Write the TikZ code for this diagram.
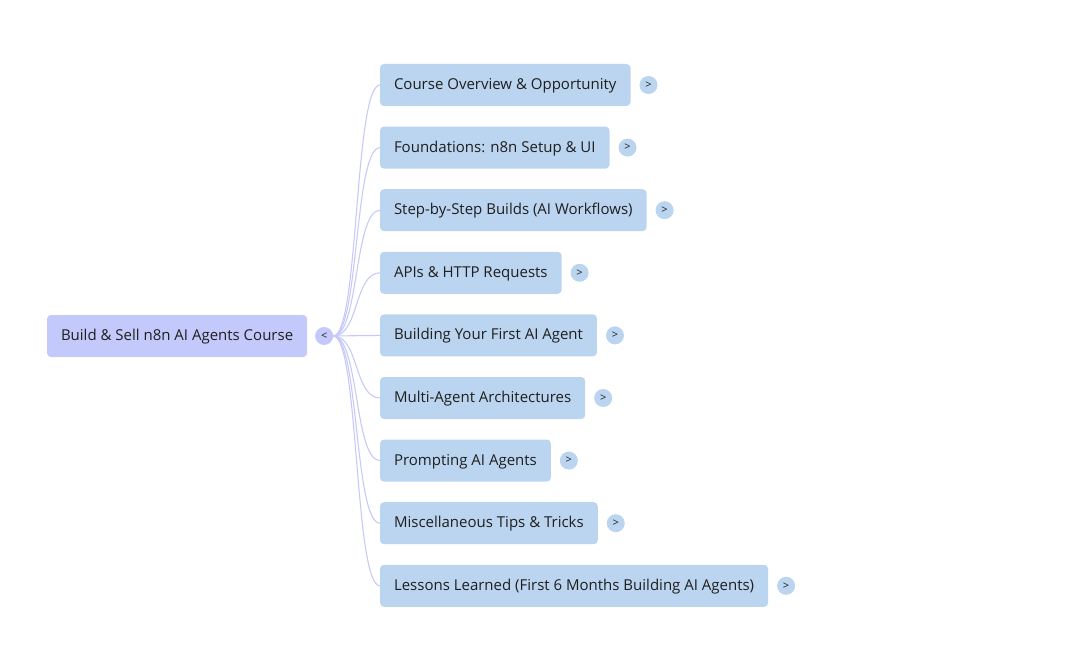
\documentclass[tikz,border=0pt]{standalone}
\usepackage{fontspec}
\setmainfont{Open Sans}
\usepackage{xcolor}
\usetikzlibrary{positioning}
\definecolor{rootfill}{HTML}{C4C9FB}
\definecolor{topicfill}{HTML}{BBD4EF}
\definecolor{linkline}{HTML}{C6CAF8}
\definecolor{inktext}{HTML}{1F1F1F}

\begin{document}
\begin{tikzpicture}[x=1pt, y=-1pt,
    topic/.style={fill=topicfill, rounded corners=4pt, minimum height=42pt,
                  inner xsep=14pt, outer sep=0pt, anchor=west, text=inktext,
                  text height=11pt, text depth=2pt,
                  font=\fontsize{15}{17}\selectfont},
    toggle/.style={circle, fill=topicfill, minimum size=18pt, inner sep=0pt,
                   outer sep=0pt, text=inktext, font=\fontsize{11}{12}\selectfont},
    link/.style={draw=linkline, line width=1.1pt}]
        \useasboundingbox (0,0) rectangle (1070,668);
        % root and its toggle
        \node[topic, fill=rootfill] (root) at (47,336) {Build \& Sell n8n AI Agents Course};
        \node[toggle, fill=rootfill, right=8pt of root] (rootbtn) {<};
        % topics
        \node[topic] (overview) at (380,85) {Course Overview \& Opportunity};
        \node[topic, below=20.6pt of overview.south west, anchor=north west]
              (setup) {Foundations: n8n Setup \& UI};
        \node[topic, below=20.6pt of setup.south west, anchor=north west]
              (builds) {Step-by-Step Builds (AI Workflows)};
        \node[topic, below=20.6pt of builds.south west, anchor=north west]
              (apis) {APIs \& HTTP Requests};
        \node[topic, below=20.6pt of apis.south west, anchor=north west]
              (firstagent) {Building Your First AI Agent};
        \node[topic, below=20.6pt of firstagent.south west, anchor=north west]
              (multi) {Multi-Agent Architectures};
        \node[topic, below=20.6pt of multi.south west, anchor=north west]
              (prompting) {Prompting AI Agents};
        \node[topic, below=20.6pt of prompting.south west, anchor=north west]
              (tips) {Miscellaneous Tips \& Tricks};
        \node[topic, below=20.6pt of tips.south west, anchor=north west]
              (lessons) {Lessons Learned (First 6 Months Building AI Agents)};
        % expand toggles
        \node[toggle, right=9pt of overview] (overviewbtn) {>};
        \node[toggle, right=9pt of setup] (setupbtn) {>};
        \node[toggle, right=9pt of builds] (buildsbtn) {>};
        \node[toggle, right=9pt of apis] (apisbtn) {>};
        \node[toggle, right=9pt of firstagent] (firstagentbtn) {>};
        \node[toggle, right=9pt of multi] (multibtn) {>};
        \node[toggle, right=9pt of prompting] (promptingbtn) {>};
        \node[toggle, right=9pt of tips] (tipsbtn) {>};
        \node[toggle, right=9pt of lessons] (lessonsbtn) {>};
        % links
        \draw[link] (rootbtn.east) .. controls +(26,0) and +(-26,0) .. (overview.west);
        \draw[link] (rootbtn.east) .. controls +(26,0) and +(-26,0) .. (setup.west);
        \draw[link] (rootbtn.east) .. controls +(26,0) and +(-26,0) .. (builds.west);
        \draw[link] (rootbtn.east) .. controls +(26,0) and +(-26,0) .. (apis.west);
        \draw[link] (rootbtn.east) -- (firstagent.west);
        \draw[link] (rootbtn.east) .. controls +(26,0) and +(-26,0) .. (multi.west);
        \draw[link] (rootbtn.east) .. controls +(26,0) and +(-26,0) .. (prompting.west);
        \draw[link] (rootbtn.east) .. controls +(26,0) and +(-26,0) .. (tips.west);
        \draw[link] (rootbtn.east) .. controls +(26,0) and +(-26,0) .. (lessons.west);
\end{tikzpicture}
\end{document}
